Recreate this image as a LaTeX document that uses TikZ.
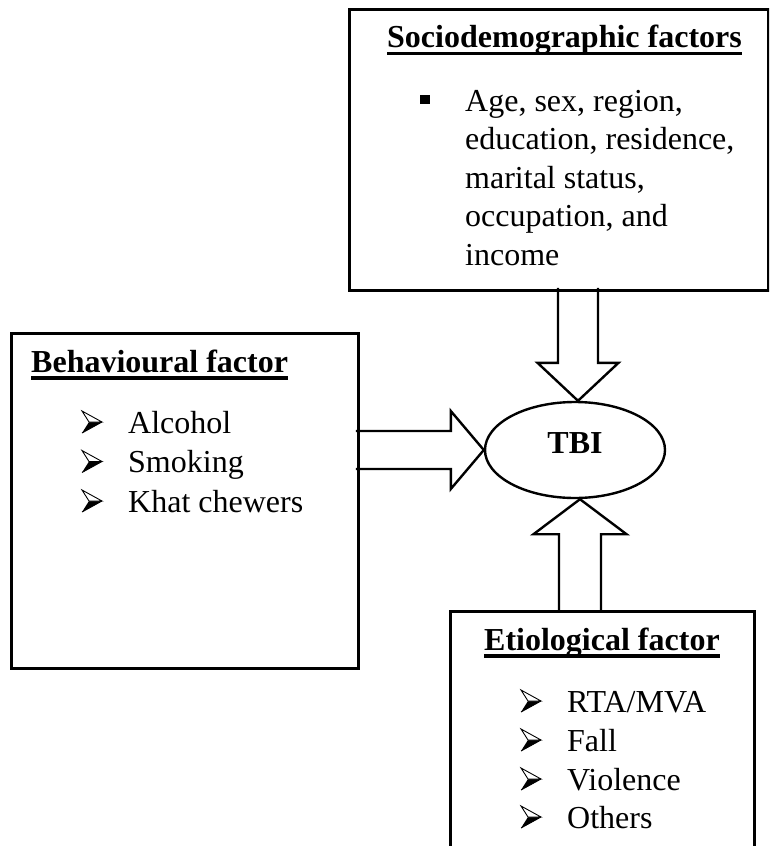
\documentclass[tikz,border=0pt]{standalone}
\usepackage{fontspec}
\setmainfont{Liberation Serif}
\usetikzlibrary{calc,shapes.geometric}
\newcommand\arrowbullet[1]{%
  \fill[black] (#1) -- ($(#1)+(20,-11)$) -- ($(#1)+(7,-11)$) -- cycle;
  \draw[line width=0.9pt, line join=miter, fill=white] ($(#1)+(0,-22)$) -- ($(#1)+(20,-11)$) -- ($(#1)+(7,-11)$) -- cycle;
  \draw[line width=0.9pt, line join=miter] (#1) -- ($(#1)+(20,-11)$);
}
\begin{document}
\begin{tikzpicture}[x=1pt,y=-1pt,
  boxframe/.style={draw, line width=2.6pt, inner sep=0, anchor=north west},
  txt/.style={inner sep=0, anchor=base west, font=\fontsize{32}{38}\selectfont},
  ttl/.style={inner sep=0, anchor=base west, font=\fontsize{32}{38}\selectfont\bfseries},
  ulinestyle/.style={line width=3.2pt},
  blockarrow/.style={draw, line width=2.4pt, line join=miter},
]
\useasboundingbox (0,0) rectangle (769,846);
\clip (0,0) rectangle (769,846);

% boxes
\node[boxframe, minimum width=419pt, minimum height=281pt] (socio) at (348,8) {};
\node[boxframe, minimum width=347pt, minimum height=335pt] (behav) at (10,332) {};
\node[boxframe, minimum width=304pt, minimum height=260pt] (etio) at (449,610) {};

% central ellipse
\node[draw, ellipse, line width=2.4pt, minimum width=180pt, minimum height=96pt, inner sep=0] (tbi) at (575,450) {};
\node[ttl, anchor=base] (tbitext) at (575,453) {TBI};

% block arrows
\coordinate (tipD) at ($(tbi.north)+(3,0)$);
\draw[blockarrow] ($(tipD)+(-20,-113)$) -- ($(tipD)+(-20,-38)$) -- ($(tipD)+(-40.5,-38)$) -- (tipD)
  -- ($(tipD)+(40.5,-38)$) -- ($(tipD)+(20,-38)$) -- ($(tipD)+(20,-113)$);
\coordinate (tipR) at (tbi.west);
\draw[blockarrow] ($(tipR)+(-128,-19)$) -- ($(tipR)+(-33,-19)$) -- ($(tipR)+(-33,-39)$) -- (tipR)
  -- ($(tipR)+(-33,39)$) -- ($(tipR)+(-33,19)$) -- ($(tipR)+(-128,19)$);
\coordinate (tipU) at ($(tbi.south)+(5,0)$);
\draw[blockarrow] ($(tipU)+(-21,112)$) -- ($(tipU)+(-21,35)$) -- ($(tipU)+(-46.5,35)$) -- (tipU)
  -- ($(tipU)+(46.5,35)$) -- ($(tipU)+(21,35)$) -- ($(tipU)+(21,112)$);

% Sociodemographic text
\node[ttl] (sT) at (387,47) {Sociodemographic factors};
\draw[ulinestyle] ($(sT.base west)+(0,6.5)$) -- ($(sT.base east)+(0,6.5)$);
\node[txt] (sB) at (420,111) {\rule[7pt]{9.5pt}{9pt}};
\node[txt] (s1) at (465,111) {Age, sex, region,};
\node[txt] (s2) at (465,149.5) {education, residence,};
\node[txt] (s3) at (465,188) {marital status,};
\node[txt] (s4) at (465,226.5) {occupation, and};
\node[txt] (s5) at (465,265) {income};

% Behavioural text
\node[ttl] (bT) at (31,372) {Behavioural factor};
\draw[ulinestyle] ($(bT.base west)+(0,6)$) -- ($(bT.base east)+(0,6)$);
\coordinate (bA1) at (82,433);
\coordinate (bA2) at (82,472.5);
\coordinate (bA3) at (82,512);
\arrowbullet{bA1}
\arrowbullet{bA2}
\arrowbullet{bA3}
\node[txt] (b1) at (128,433) {Alcohol};
\node[txt] (b2) at (128,472.5) {Smoking};
\node[txt] (b3) at (128,512) {Khat chewers};

% Etiological text
\node[ttl] (eT) at (484,650) {Etiological factor};
\draw[ulinestyle] ($(eT.base west)+(0,6)$) -- ($(eT.base east)+(0,6)$);
\coordinate (eA1) at (521,712);
\coordinate (eA2) at (521,751);
\coordinate (eA3) at (521,790);
\coordinate (eA4) at (521,828);
\arrowbullet{eA1}
\arrowbullet{eA2}
\arrowbullet{eA3}
\arrowbullet{eA4}
\node[txt] (e1) at (567,712) {RTA/MVA};
\node[txt] (e2) at (567,751) {Fall};
\node[txt] (e3) at (567,790) {Violence};
\node[txt] (e4) at (567,828) {Others};
\end{tikzpicture}
\end{document}
